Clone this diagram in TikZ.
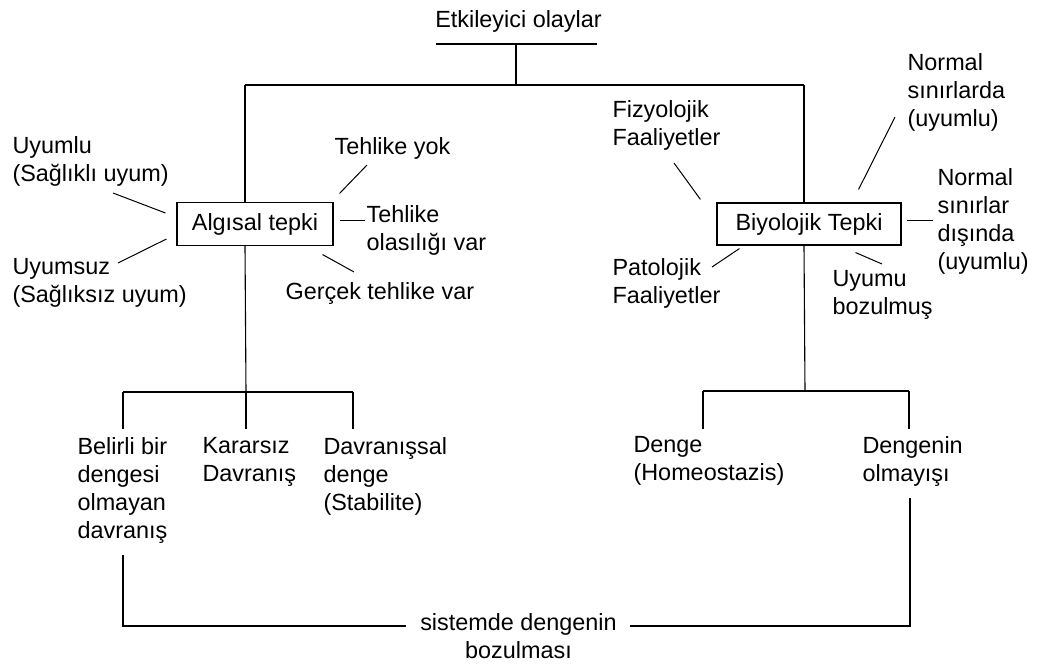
\documentclass[tikz,border=0pt]{standalone}
\usepackage{fontspec}
\setmainfont{Liberation Sans}
\usetikzlibrary{positioning, calc}
\tikzset{
  every picture/.style={line width=1.1pt},
  lbl/.style={font=\fontsize{23.4}{28}\selectfont, align=left, inner sep=0pt, anchor=north west},
  tepki/.style={draw, font=\fontsize{23.4}{28}\selectfont, inner sep=2pt, minimum height=43pt},
  tick/.style={line width=1pt},
}

\begin{document}
\begin{tikzpicture}[x=1pt, y=-1pt]
  \useasboundingbox (0,0) rectangle (1037,666);
  % title and the two reactions
  \node[lbl, anchor=north] (olay) at (518.5,10) {Etkileyici olaylar};
  \node[tepki, minimum width=156pt] (algisal) at (255,224) {Algısal tepki};
  \node[tepki, minimum width=184pt, minimum height=42pt] (biyolojik) at (809,224) {Biyolojik Tepki};
  % labels round the boxes
  \node[lbl] (uyumlu) at (12,136) {Uyumlu\\(Sağlıklı uyum)};
  \node[lbl] (uyumsuz) at (12,258) {Uyumsuz\\(Sağlıksız uyum)};
  \node[lbl] (yok) at (334,137) {Tehlike yok};
  \node[lbl] (olasi) at (366,205) {Tehlike\\olasılığı var};
  \node[lbl] (gercek) at (285,282) {Gerçek tehlike var};
  \node[lbl] (fizyo) at (612,100) {Fizyolojik\\Faaliyetler};
  \node[lbl] (pato) at (612,258) {Patolojik\\Faaliyetler};
  \node[lbl] (normala) at (907,53) {Normal\\sınırlarda\\(uyumlu)};
  \node[lbl] (normalb) at (937,168) {Normal\\sınırlar\\dışında\\(uyumlu)};
  \node[lbl] (bozuk) at (832,270) {Uyumu\\bozulmuş};
  % outcomes
  \node[lbl] (belirli) at (77,437) {Belirli bir\\dengesi\\olmayan\\davranış};
  \node[lbl] (kararsiz) at (202,437) {Kararsız\\Davranış};
  \node[lbl] (stabil) at (323,437) {Davranışsal\\denge\\(Stabilite)};
  \node[lbl] (denge) at (633,436) {Denge\\(Homeostazis)};
  \node[lbl] (dengesiz) at (862,436) {Dengenin\\olmayışı};
  \node[lbl, anchor=north, align=center] (sistem) at (518.5,613) {sistemde dengenin\\bozulması};

  \coordinate (split) at (516,85);
  \coordinate (lsplit) at (245,85);
  \coordinate (rsplit) at (804,85);
  \coordinate (lbr) at (246,392);
  \coordinate (rbr) at (805,391);
  \coordinate (sl) at (123,626);
  \coordinate (sr) at (910,626);

  % tree
  \draw (436,44) -- (597,44);
  \draw (516,44) -- (split);
  \draw (lsplit) -- (rsplit);
  \draw (lsplit) -- (lsplit |- algisal.north);
  \draw (lsplit |- algisal.south) -- (lbr);
  \draw (rsplit) -- (rsplit |- biyolojik.north);
  \draw (rsplit |- biyolojik.south) -- (rbr);
  \draw (123,392) -- (353,392);
  \foreach \x in {123,246,353} \draw (\x,392) -- (\x,429);
  \draw (703,391) -- (909,391);
  \foreach \x in {703,909} \draw (\x,391) -- (\x,429);
  \draw (123,555) -- (sl) -- ($(sistem.west |- sl)+(-14,0)$);
  \draw (910,498) -- (sr) -- ($(sistem.east |- sr)+(13,0)$);

  % ticks
  \draw[tick] ([shift={(101,57)}]uyumlu.north west) -- ([shift={(-11,-11)}]algisal.west);
  \draw[tick] ([shift={(106,5)}]uyumsuz.north west) -- ([shift={(-10,15)}]algisal.west);
  \draw[tick] ([shift={(33,28)}]yok.north west) -- ([shift={(6,-8.5)}]algisal.north east);
  \draw[tick] ([shift={(-1,16)}]olasi.north west) -- ([shift={(6,-3)}]algisal.east);
  \draw[tick] ([shift={(69,-10)}]gercek.north west) -- ([shift={(-11,8.5)}]algisal.south east);
  \draw[tick] ([shift={(62,63)}]fizyo.north west) -- ([shift={(-16,-3)}]biyolojik.north west);
  \draw[tick] ([shift={(100,9)}]pato.north west) -- ([shift={(23,3)}]biyolojik.south west);
  \draw[tick] ([shift={(-12,64)}]normala.north west) -- ([shift={(-43,-13)}]biyolojik.north east);
  \draw[tick] ([shift={(-4,53)}]normalb.north west) -- ([shift={(5,-3)}]biyolojik.east);
  \draw[tick] ([shift={(50,-6)}]bozuk.north west) -- ([shift={(-46,7)}]biyolojik.south east);
\end{tikzpicture}
\end{document}
